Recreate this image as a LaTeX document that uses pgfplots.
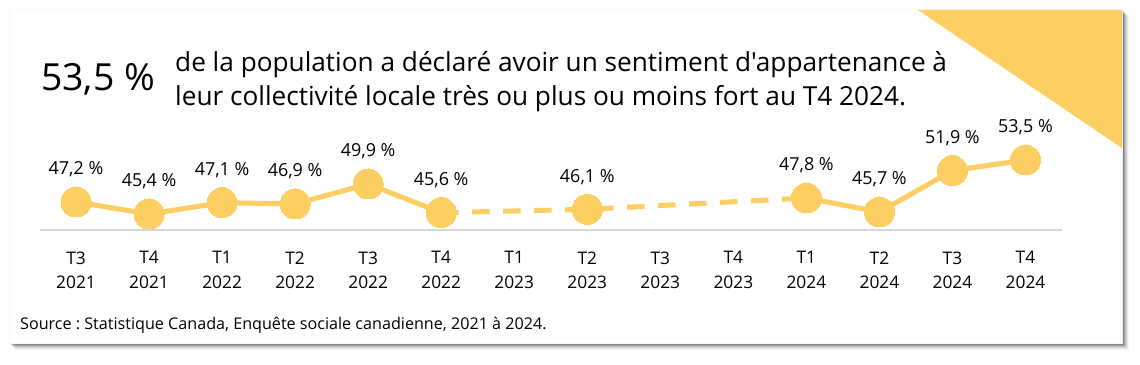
\documentclass[border=0pt]{standalone}
\usepackage{pgfplots}
\pgfplotsset{compat=1.18}
\usepackage{fontspec}
\setmainfont{Open Sans}[Ligatures=TeXOff]
\definecolor{yel}{RGB}{253,206,98}
\definecolor{basel}{RGB}{215,215,215}
\frenchspacing
\begin{document}
\begin{tikzpicture}[x=1bp,y=1bp]
\useasboundingbox (0,0) rectangle (1140,364);
% shadow
\foreach \o/\op in {7/0.04,6/0.06,5/0.08,4/0.10,3/0.14,2/0.2}{
  \fill[black,opacity=\op] (10+\o-1,21-\o) rectangle (1122+\o,354-\o+1);
}
\fill[black!3] (9,20) rectangle (1123,355);
\fill[white] (10,21) rectangle (1122,354);
\fill[yel] (918,354) -- (1122,354) -- (1122,216) -- cycle;
% headline
\node[anchor=base west, inner sep=0, font=\fontsize{37.5}{40}\selectfont] at (41,274) {53,5 \%};
\node[anchor=base west, inner sep=0, align=left, font=\fontsize{26.3}{34}\selectfont] at (175,259) {de la population a déclaré avoir un sentiment d'appartenance à\\leur collectivité locale très ou plus ou moins fort au T4 2024.};
\node[anchor=base west, inner sep=0, font=\fontsize{16.2}{18}\selectfont] at (20,35) {Source : Statistique Canada, Enquête sociale canadienne, 2021 à 2024.};
\begin{axis}[
  at={(39.5bp,134bp)}, anchor=south west,
  scale only axis, width=1022.5bp, height=86.7bp,
  xmin=-0.5, xmax=13.5, ymin=43, ymax=56,
  axis x line=bottom, axis y line=none,
  x axis line style={draw=basel, line width=1.3bp, -},
  xtick={0,...,13},
  xticklabels={{T3\\2021},{T4\\2021},{T1\\2022},{T2\\2022},{T3\\2022},{T4\\2022},{T1\\2023},{T2\\2023},{T3\\2023},{T4\\2023},{T1\\2024},{T2\\2024},{T3\\2024},{T4\\2024}},
  xticklabel style={align=center, font=\fontsize{17.4}{25}\selectfont, yshift=-18bp},
  major tick length=0pt,
  clip=false,
]
\addplot[yel, line width=5bp, dash pattern=on 17.5bp off 13.5bp] coordinates {(5,45.6)(7,46.1)(10,47.8)};
\addplot[yel, line width=5bp] coordinates {(0,47.2)(1,45.4)(2,47.1)(3,46.9)(4,49.9)(5,45.6)};
\addplot[yel, line width=5bp] coordinates {(10,47.8)(11,45.7)(12,51.9)(13,53.5)};
\addplot[yel, only marks, mark=*, mark size=15bp, mark options={fill=yel, draw=yel, line width=0pt},
  point meta=explicit symbolic, nodes near coords,
  every node near coord/.append style={anchor=base, yshift=27bp, font=\fontsize{18}{20}\selectfont, text=black}]
  coordinates {(0,47.2)[{47,2 \%}] (1,45.4)[{45,4 \%}] (2,47.1)[{47,1 \%}] (3,46.9)[{46,9 \%}] (4,49.9)[{49,9 \%}] (5,45.6)[{45,6 \%}] (7,46.1)[{46,1 \%}] (10,47.8)[{47,8 \%}] (11,45.7)[{45,7 \%}] (12,51.9)[{51,9 \%}] (13,53.5)[{53,5 \%}]};
\end{axis}
\end{tikzpicture}
\end{document}
